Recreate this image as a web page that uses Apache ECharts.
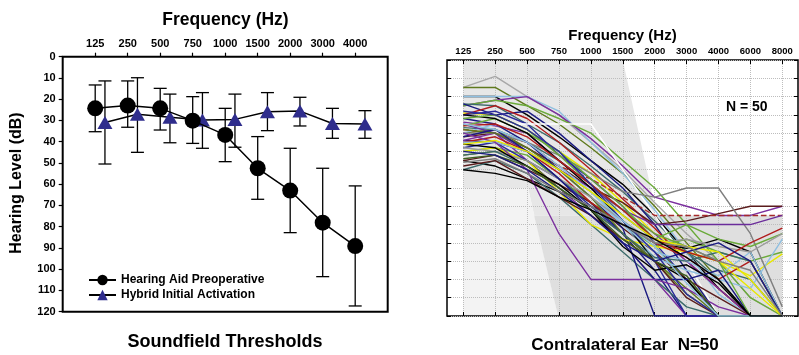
<!DOCTYPE html>
<html><head><meta charset="utf-8">
<script src="https://cdn.jsdelivr.net/npm/echarts@6/dist/echarts.min.js"></script>
<style>html,body{margin:0;padding:0;background:#fff}#c{width:799px;height:355px}</style>
</head><body><div id="c"></div>
<script>
// ---------- Left panel data ----------
const freqLabelsLeft = ['125','250','500','750','1000','1500','2000','3000','4000'];
const preopMean  = [24.3, 23.0, 24.3, 30.1, 36.8, 52.5, 63.0, 78.1, 89.1];
const preopLow   = [13.3, 11.4, 14.9, 18.8, 24.3, 37.6, 43.1, 52.5, 60.8];
const preopHigh  = [35.3, 33.2, 34.5, 40.8, 49.4, 67.1, 82.8, 103.5, 117.3];
const hybridMean = [31.0, 27.1, 28.5, 29.8, 29.5, 25.9, 25.6, 31.4, 31.7];
const hybridLow  = [11.4, 9.9, 17.6, 16.9, 17.6, 16.9, 19.1, 24.3, 25.4];
const hybridHigh = [50.5, 45.0, 40.5, 43.1, 42.6, 34.8, 32.6, 38.4, 38.4];
const hybridOffset = 0.3;

// ---------- Right panel data ----------
const freqLabelsRight = ['125','250','500','750','1000','1500','2000','3000','4000','6000','8000'];
const contraThresholds = [
  [5, -1, 10, 20, 35, 50, 68, 85, 100, 120, 130],
  [5, 5, 15, 25, 38, 52, 70, 90, 110, 130, 130],
  [10, 10, 20, 32, 45, 58, 75, 95, 115, 130, 130],
  [10, 10, 10, 18, 35, 52, 72, 95, 118, 130, 130],
  [15, 12, 10, 20, 33, 48, 65, 70, 75, 75, 70],
  [15, 12, 15, 22, 30, 45, 60, 80, 100, 120, 130],
  [14, 15, 25, 35, 48, 62, 78, 95, 110, 130, 130],
  [14, 20, 18, 30, 45, 60, 80, 105, 130, 130, 130],
  [19, 20, 28, 40, 52, 68, 85, 95, 100, 108, 96],
  [20, 15, 22, 35, 50, 66, 82, 100, 115, 130, 130],
  [20, 18, 25, 42, 55, 70, 90, 110, 130, 130, 130],
  [28, 25, 25, 25, 25, 50, 75, 100, 130, 130, 130],
  [24, 26, 30, 45, 58, 72, 85, 100, 115, 130, 130],
  [27, 28, 35, 45, 58, 75, 88, 95, 105, 110, 130],
  [30, 28, 38, 50, 62, 78, 92, 110, 130, 130, 130],
  [32, 30, 38, 48, 60, 68, 80, 78, 74, 70, 70],
  [34, 35, 40, 55, 68, 85, 105, 130, 130, 130, 130],
  [34, 30, 45, 60, 75, 90, 110, 130, 130, 130, 130],
  [40, 38, 42, 55, 68, 80, 92, 88, 95, 100, 95],
  [42, 40, 45, 60, 72, 85, 100, 115, 130, 130, 130],
  [45, 48, 55, 62, 70, 80, 90, 93, 88, 95, 130],
  [45, 42, 50, 58, 68, 82, 95, 110, 120, 130, 130],
  [50, 45, 52, 65, 80, 95, 110, 125, 130, 130, 130],
  [30, 25, 35, 48, 62, 80, 98, 105, 110, 115, 88],
  [28, 30, 35, 48, 55, 65, 75, 75, 75, 75, 75],
  [30, 30, 35, 42, 52, 62, 65, 60, 60, 85, 125],
  [25, 30, 40, 50, 60, 72, 80, 80, 80, 80, 75],
  [22, 25, 35, 50, 65, 82, 130, 130, 130, 130, 130],
  [26, 22, 30, 40, 55, 70, 88, 80, 88, 92, 85],
  [40, 38, 45, 62, 80, 88, 92, 95, 100, 115, 130],
  [35, 32, 40, 52, 68, 80, 90, 98, 110, 100, 130],
  [38, 35, 45, 55, 70, 85, 100, 130, 130, 130, 130],
  [20, 22, 30, 45, 60, 78, 100, 110, 130, 130, 130],
  [35, 35, 40, 50, 65, 80, 95, 100, 108, 95, 130],
  [28, 30, 38, 50, 65, 85, 100, 118, 130, 130, 130],
  [38, 40, 45, 55, 65, 78, 90, 88, 92, 95, 85],
  [32, 28, 40, 55, 72, 90, 110, 110, 105, 130, 130],
  [48, 45, 55, 65, 75, 88, 100, 120, 130, 130, 130],
  [30, 35, 50, 85, 110, 110, 110, 115, 125, 130, 130],
  [22, 20, 28, 42, 58, 72, 85, 92, 100, 130, 130],
  [42, 40, 48, 60, 72, 85, 98, 100, 95, 100, 130],
  [26, 25, 32, 45, 58, 72, 88, 95, 100, 90, 82],
  [36, 38, 48, 58, 72, 92, 105, 102, 112, 130, 130],
  [18, 20, 28, 40, 58, 78, 95, 118, 130, 130, 130],
  [44, 42, 48, 60, 72, 88, 100, 108, 130, 130, 130],
  [25, 28, 35, 48, 62, 78, 92, 112, 130, 130, 130],
  [36, 34, 40, 50, 62, 75, 88, 92, 95, 110, 130],
  [40, 42, 50, 62, 75, 90, 100, 95, 90, 100, 130],
  [46, 44, 52, 62, 70, 80, 90, 92, 100, 105, 130],
  [50, 52, 56, 65, 72, 80, 88, 98, 110, 130, 130]
];
const contraColors = [
  '#a8a8a8','#5f7a1e','#000000','#8fbfe0','#7b2f9e','#6aaa3a','#3d6b6b','#1a1a80','#e8e800','#b01c1c',
  '#2b2b9b','#ffffff','#7b2f9e','#3d6b6b','#5f7a1e','#5a1c1c','#1a1a80','#7b2f9e','#6aaa3a','#5f7a1e',
  '#000000','#5a1c1c','#3d6b6b','#8fbfe0','#a52a2a','#7f7f7f','#6a2c9a','#1a1a80','#6aaa3a','#e8e800',
  '#b01c1c','#2b2b9b','#000000','#8fbfe0','#5f7a1e','#9a9a9a','#1a1a80','#5a1c1c','#7b2f9e','#6aaa3a',
  '#3d6b6b','#b01c1c','#000000','#2b2b9b','#3f5f1f','#8fbfe0','#e8e800','#1a1a80','#7f7f7f','#000000'
];
const dashedLine = 24;
const rightYRange = [-10, 130];
// shading regions (data coordinates: [frequency index, dB])
const shadePolys = [
  [[0,-10],[5,-10],[6,70],[6,75],[2.22,75],[2.03,60],[0,60]],
  [[0,60],[2.03,60],[2.97,130],[0,130]],
  [[2.22,75],[10,75],[10,130],[2.97,130]]
];
const shadeColors = ['#e7e7e7','#f3f3f3','#dfdfdf'];

const FONT = '"Liberation Sans", Arial, sans-serif';
const chart = echarts.init(document.getElementById('c'), null, {renderer:'canvas'});

function errRender(params, api) {
  const x = api.value(0), lo = api.value(1), hi = api.value(2);
  const p1 = api.coord([x, lo]), p2 = api.coord([x, hi]);
  const w = 6.5;
  const style = {stroke:'#000', lineWidth:1.3, fill:null};
  return {type:'group', children:[
    {type:'line', shape:{x1:p1[0], y1:p1[1], x2:p2[0], y2:p2[1]}, style},
    {type:'line', shape:{x1:p1[0]-w, y1:p1[1], x2:p1[0]+w, y2:p1[1]}, style},
    {type:'line', shape:{x1:p2[0]-w, y1:p2[1], x2:p2[0]+w, y2:p2[1]}, style}
  ]};
}
function polyRender(params, api) {
  const poly = shadePolys[params.dataIndex];
  return {type:'polygon', shape:{points: poly.map(p => api.coord(p))},
          style:{fill: shadeColors[params.dataIndex]}};
}

const tickIdxLeft = freqLabelsLeft.map((_, i) => i);
const series = [
  {type:'custom', name:'errPre', xAxisIndex:0, yAxisIndex:0, renderItem: errRender, z:1,
   data: preopMean.map((_, i) => [i, preopLow[i], preopHigh[i]]), silent:true},
  {type:'custom', name:'errHyb', xAxisIndex:0, yAxisIndex:0, renderItem: errRender, z:1,
   data: hybridMean.map((_, i) => [i + hybridOffset, hybridLow[i], hybridHigh[i]]), silent:true},
  {type:'line', name:'Hybrid Initial Activation', xAxisIndex:0, yAxisIndex:0, z:3,
   data: hybridMean.map((v, i) => [i + hybridOffset, v]),
   symbol:'triangle', symbolSize:[15,13], itemStyle:{color:'#2f2d8c'},
   lineStyle:{color:'#000', width:1.5}},
  {type:'line', name:'Hearing Aid Preoperative', xAxisIndex:0, yAxisIndex:0, z:4,
   data: preopMean.map((v, i) => [i, v]),
   symbol:'circle', symbolSize:16, itemStyle:{color:'#000'},
   lineStyle:{color:'#000', width:1.5}},
  {type:'custom', name:'shade', xAxisIndex:1, yAxisIndex:1, renderItem: polyRender, z:-1, silent:true,
   data: shadePolys.map((_, i) => [i, 0])}
];
contraThresholds.forEach((arr, k) => {
  series.push({type:'line', name:'c'+k, xAxisIndex:1, yAxisIndex:1, silent:true,
    showSymbol:false, symbol:'none',
    data: arr.map((v, i) => [i, v]),
    lineStyle:{color: contraColors[k], width:1.4, type: k === dashedLine ? 'dashed' : 'solid'}});
});

const noLine = {show:false, onZero:false};
const option = {
  animation:false,
  backgroundColor:'#fff',
  grid:[
    {left:62.7, top:56.7, width:325, height:255, show:true, borderColor:'#000', borderWidth:2, backgroundColor:'transparent'},
    {left:463.3, top:60, width:319, height:256, show:false},
    {left:447, top:60, width:351, height:256, show:true, borderColor:'#000', borderWidth:1.5, backgroundColor:'transparent'}
  ],
  xAxis:[
    {type:'value', gridIndex:0, position:'top', min:-1, max:9, interval:1,
     axisLine:noLine, splitLine:{show:false},
     axisTick:{show:true, inside:false, length:4, lineStyle:{color:'#000', width:1.2}, customValues: tickIdxLeft},
     axisLabel:{customValues: tickIdxLeft, formatter: v => freqLabelsLeft[v] || '', color:'#000',
       fontFamily:FONT, fontWeight:'bold', fontSize:11, margin:7}},
    {type:'value', gridIndex:1, position:'top', min:0, max:10, interval:1,
     axisLine:noLine,
     splitLine:{show:true, lineStyle:{color:'#bdbdbd', type:'dotted', width:1}},
     axisTick:{show:true, inside:true, length:4, lineStyle:{color:'#000', width:1}},
     axisLabel:{formatter: v => freqLabelsRight[v] || '', color:'#000',
       fontFamily:FONT, fontWeight:'bold', fontSize:9.5, margin:4}},
    {type:'value', gridIndex:1, position:'bottom', min:0, max:10, interval:1,
     axisLine:noLine, splitLine:{show:false},
     axisTick:{show:true, inside:true, length:4, lineStyle:{color:'#000', width:1}},
     axisLabel:{show:false}},
    {type:'value', gridIndex:2, min:0, max:1, show:false, axisLine:noLine}
  ],
  yAxis:[
    {type:'value', gridIndex:0, inverse:true, min:0, max:120, interval:10, position:'left',
     axisLine:noLine, splitLine:{show:false},
     axisTick:{show:true, inside:false, length:4, lineStyle:{color:'#000', width:1.2}},
     axisLabel:{color:'#000', fontFamily:FONT, fontWeight:'bold', fontSize:11, margin:7}},
    {type:'value', gridIndex:1, inverse:true, min:rightYRange[0], max:rightYRange[1], show:false, axisLine:noLine},
    {type:'value', gridIndex:2, inverse:true, min:rightYRange[0], max:rightYRange[1], interval:10, position:'left',
     axisLine:noLine,
     splitLine:{show:true, lineStyle:{color:'#bdbdbd', type:'dotted', width:1}},
     axisTick:{show:true, inside:true, length:4, lineStyle:{color:'#000', width:1}},
     axisLabel:{show:false}},
    {type:'value', gridIndex:2, inverse:true, min:rightYRange[0], max:rightYRange[1], interval:10, position:'right',
     axisLine:noLine, splitLine:{show:false},
     axisTick:{show:true, inside:true, length:4, lineStyle:{color:'#000', width:1}},
     axisLabel:{show:false}}
  ],
  legend:{
    data:['Hearing Aid Preoperative','Hybrid Initial Activation'],
    orient:'vertical', left:83, top:269, itemWidth:27, itemHeight:13, itemGap:3,
    selectedMode:false,
    textStyle:{color:'#000', fontFamily:FONT, fontWeight:'bold', fontSize:12}
  },
  graphic:[
    {type:'text', x:225.5, y:20, style:{text:'Frequency (Hz)', font:'bold 17.5px '+FONT, fill:'#000', align:'center', verticalAlign:'middle'}},
    {type:'text', x:225, y:342, style:{text:'Soundfield Thresholds', font:'bold 18px '+FONT, fill:'#000', align:'center', verticalAlign:'middle'}},
    {type:'text', x:17, y:183, rotation:Math.PI/2, style:{text:'Hearing Level (dB)', font:'bold 16px '+FONT, fill:'#000', align:'center', verticalAlign:'middle'}},
    {type:'text', x:622.5, y:35.5, style:{text:'Frequency (Hz)', font:'bold 15px '+FONT, fill:'#000', align:'center', verticalAlign:'middle'}},
    {type:'text', x:625, y:345, style:{text:'Contralateral Ear  N=50', font:'bold 17px '+FONT, fill:'#000', align:'center', verticalAlign:'middle'}},
    {type:'text', x:746.7, y:107, z:100, style:{text:'N = 50', font:'bold 14px '+FONT, fill:'#000', align:'center', verticalAlign:'middle'}}
  ],
  series: series
};
chart.setOption(option);
</script>
</body></html>
